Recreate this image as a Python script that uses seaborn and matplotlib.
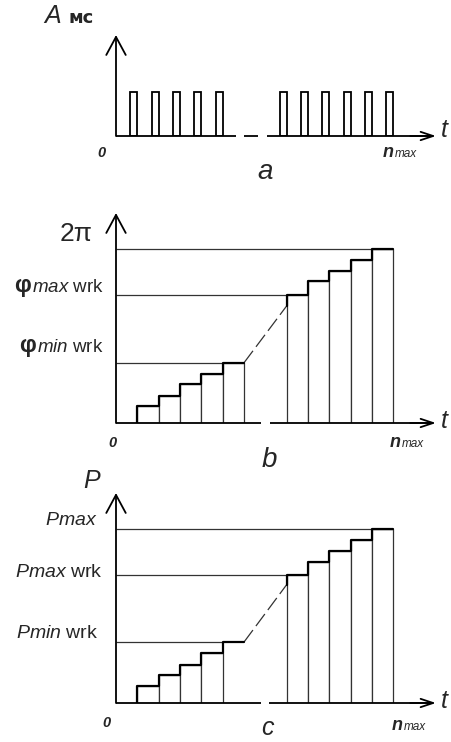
import numpy as np
import matplotlib
matplotlib.use("Agg")
import matplotlib.pyplot as plt
import seaborn as sns

# ---------------- data ----------------
# panel a: pulses (position of the end of each pulse, in pulse periods)
pulse_ends = [1, 2, 3, 4, 5, 8, 9, 10, 11, 12, 13]
pulse_width = 1 / 3
pulse_amp = 1.0

# panel b: phase steps (radians)
low_x = [1, 2, 3, 4, 5]
high_x = [8, 9, 10, 11, 12]
phase_low = [0.60, 0.96, 1.39, 1.78, 2.17]
phase_high = [4.63, 5.11, 5.47, 5.89, 6.28]
phase_ramp_end = 4.22
phi_min_wrk = 2.17
phi_max_wrk = 4.63
two_pi = 2 * np.pi

# panel c: power steps (fraction of Pmax)
power_low = [0.096, 0.163, 0.22, 0.287, 0.35]
power_high = [0.737, 0.81, 0.875, 0.938, 1.0]
power_ramp_end = 0.68
p_min_wrk = 0.35
p_max_wrk = 0.737
p_max = 1.0

# ---------------- style ----------------
sns.set_style("white")
plt.rcParams["font.family"] = ["Liberation Sans", "DejaVu Sans"]
plt.rcParams["mathtext.fontset"] = "custom"
plt.rcParams["mathtext.it"] = "Liberation Sans:italic"
plt.rcParams["mathtext.rm"] = "Liberation Sans"
plt.rcParams["mathtext.bf"] = "Liberation Sans:bold"

W, H = 452, 742
fig = plt.figure(figsize=(W / 100, H / 100), dpi=100)
fig.patch.set_facecolor("white")

X0 = 116
UNIT = 21.33
XMAX = 15
THIN = "#333333"


def make_axes(base_px, top_px, ytop):
    ax = fig.add_axes([X0 / W, (H - base_px) / H, XMAX * UNIT / W, (base_px - top_px) / H])
    ax.set_xlim(0, XMAX)
    ax.set_ylim(0, ytop)
    ax.axis("off")
    # y axis with open arrow
    ax.annotate("", xy=(0, ytop), xytext=(0, 0), annotation_clip=False,
                arrowprops=dict(arrowstyle="->,head_length=13,head_width=7", mutation_scale=1,
                                lw=1.3, color="k", shrinkA=0, shrinkB=0))
    # x arrow head
    ax.annotate("", xy=(XMAX, 0), xytext=(XMAX - 1.2, 0), annotation_clip=False,
                arrowprops=dict(arrowstyle="->,head_length=9,head_width=3", mutation_scale=1,
                                lw=1.3, color="k", shrinkA=0, shrinkB=0))
    return ax


def baseline(ax, segs, lw=1.3):
    for a, b in segs:
        ax.plot([a, b], [0, 0], color="k", lw=lw, solid_capstyle="butt", clip_on=False)


def ptext(px, py, s, ha="left", va="baseline", **kw):
    fig.text(px / W, 1 - py / H, s, ha=ha, va=va, **kw)


def steps(ax, xs_start, heights, start_y):
    xs = [xs_start[0]] + list(xs_start) + [xs_start[-1] + 1]
    ys = [start_y] + list(heights) + [heights[-1]]
    sns.lineplot(x=xs, y=ys, drawstyle="steps-post", estimator=None, sort=False,
                 color="k", lw=1.6, ax=ax)


def nmax(px, py):
    ptext(px, py, "n", fontsize=13, style="italic", fontweight="bold")
    ptext(px + 12, py, "max", fontsize=8.5, style="italic")


# ---------------- panel a ----------------
axa = make_axes(136, 35, 101 / 44)
baseline(axa, [(0, 5.63), (6.0, 6.66), (7.08, XMAX - 0.3)])
axa.bar([e - pulse_width for e in pulse_ends], pulse_amp, width=pulse_width, align="edge",
        facecolor="white", edgecolor="k", lw=1.3)

ptext(44, 23, "A", fontsize=18, style="italic")
ptext(68, 23, "мс", fontsize=13, fontweight="bold", family=["DejaVu Sans"])
ptext(441, 137, "t", fontsize=18, style="italic")
ptext(97, 157, "0", fontsize=10.5, style="italic", fontweight="bold")
nmax(383, 157)
ptext(265, 179, "a", fontsize=20, style="italic", ha="center")

# ---------------- panel b ----------------
axb = make_axes(423, 213, 210 / 27.74)
baseline(axb, [(0, 6.8), (7.2, XMAX - 0.3)])
axb.bar(low_x, phase_low, width=1, align="edge", facecolor="white", edgecolor=THIN, lw=0.9)
axb.bar(high_x, phase_high, width=1, align="edge", facecolor="white", edgecolor=THIN, lw=0.9)
axb.hlines([two_pi, phi_max_wrk, phi_min_wrk], 0, [high_x[-1] + 1, high_x[0], low_x[-1]],
           color=THIN, lw=0.9)
axb.plot([low_x[-1] + 1, high_x[0]], [phi_min_wrk, phase_ramp_end], color=THIN, lw=0.9,
         ls=(0, (12, 4)))
steps(axb, low_x, phase_low, 0)
steps(axb, high_x, phase_high, phase_ramp_end)

ptext(76, 241, "2π", fontsize=19, ha="center")
ptext(14, 292, "φ", fontsize=17, fontweight="bold")
ptext(104, 292, r"$\mathit{max}$ wrk", fontsize=13.5, ha="right")
ptext(19, 352, "φ", fontsize=17, fontweight="bold")
ptext(104, 352, r"$\mathit{min}$ wrk", fontsize=13.5, ha="right")
ptext(441, 428, "t", fontsize=18, style="italic")
ptext(108, 447, "0", fontsize=10.5, style="italic", fontweight="bold")
nmax(390, 447)
ptext(269, 467, "b", fontsize=20, style="italic", ha="center")

# ---------------- panel c ----------------
axc = make_axes(703, 493, 210 / 174)
baseline(axc, [(0, 6.8), (7.15, XMAX - 0.3)])
axc.bar(low_x[:-1], power_low[:-1], width=1, align="edge", facecolor="white", edgecolor=THIN, lw=0.9)
axc.bar(high_x, power_high, width=1, align="edge", facecolor="white", edgecolor=THIN, lw=0.9)
axc.hlines([p_max, p_max_wrk, p_min_wrk], 0, [high_x[-1] + 1, high_x[0], low_x[-1]],
           color=THIN, lw=0.9)
axc.plot([low_x[-1] + 1, high_x[0]], [p_min_wrk, power_ramp_end], color=THIN, lw=0.9,
         ls=(0, (12, 4)))
steps(axc, low_x, power_low, 0)
steps(axc, high_x, power_high, power_ramp_end)

ptext(83, 488, "P", fontsize=18, style="italic")
ptext(97, 525, r"$\mathit{Pmax}$", fontsize=14, ha="right")
ptext(103, 577, r"$\mathit{Pmax}$ wrk", fontsize=14, ha="right")
ptext(98, 638, r"$\mathit{Pmin}$ wrk", fontsize=14, ha="right")
ptext(441, 708, "t", fontsize=18, style="italic")
ptext(102, 727, "0", fontsize=10.5, style="italic", fontweight="bold")
nmax(392, 730)
ptext(267, 735, "c", fontsize=18, style="italic", ha="center")

fig.savefig("out.png", dpi=100, facecolor="white")
